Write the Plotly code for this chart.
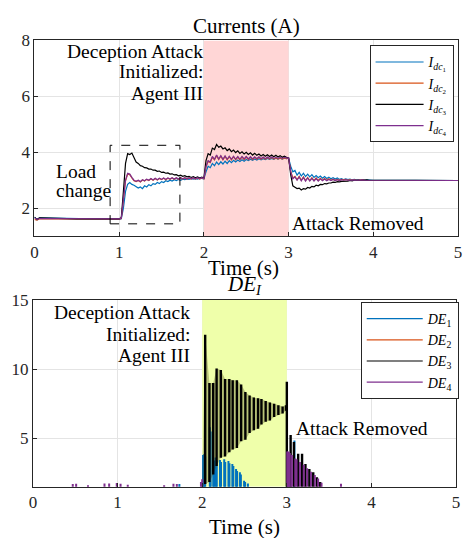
import plotly.graph_objects as go

# ---------------- data: currents (top) ----------------
pre_t = [0.0, 0.03, 0.06, 0.5]
grid_t = [round(1.0 + 0.025 * k, 3) for k in range(121)]
post_t = [4.5, 5.0]
time_s = pre_t + grid_t + post_t

i1_pre = [1.68, 1.58, 1.65, 1.62]
i1_rows = [
    [1.6, 1.62, 2.0, 2.6], [2.85, 2.92, 2.85, 2.82], [2.78, 2.72, 2.76, 2.7],
    [2.8, 2.76, 2.84, 2.8], [2.88, 2.85, 2.92, 2.88], [2.95, 2.92, 2.98, 2.95],
    [3.0, 2.97, 3.02, 2.99], [3.03, 3.0, 3.04, 3.02], [3.05, 3.03, 3.06, 3.04],
    [3.06, 3.04, 3.07, 3.05], [3.05, 3.3, 3.5, 3.45], [3.6, 3.52, 3.65, 3.56],
    [3.66, 3.58, 3.68, 3.6], [3.7, 3.63, 3.71, 3.65], [3.72, 3.67, 3.73, 3.68],
    [3.74, 3.7, 3.75, 3.71], [3.76, 3.72, 3.77, 3.73], [3.77, 3.74, 3.78, 3.75],
    [3.78, 3.75, 3.79, 3.76], [3.79, 3.76, 3.79, 3.77], [3.79, 3.5, 3.3, 3.35],
    [3.18, 3.28, 3.15, 3.25], [3.13, 3.22, 3.12, 3.2], [3.1, 3.17, 3.09, 3.15],
    [3.07, 3.13, 3.06, 3.11], [3.05, 3.09, 3.04, 3.08], [3.03, 3.06, 3.02, 3.05],
    [3.02, 3.04, 3.01, 3.03], [3.01, 3.02, 3.0, 3.02], [3.0, 3.01, 3.0, 3.01],
    [3.0],
]
i1_post = [3.0, 2.99]

i2_pre = [1.6, 1.57, 1.62, 1.61]
i2_rows = [
    [1.61, 1.63, 2.35, 2.98], [3.22, 3.2, 3.08, 2.98], [2.95, 2.99, 2.94, 3.01],
    [2.97, 3.03, 2.99, 3.05], [3.0, 3.06, 3.01, 3.06], [3.02, 3.07, 3.02, 3.07],
    [3.03, 3.08, 3.03, 3.08], [3.03, 3.08, 3.04, 3.08], [3.04, 3.08, 3.04, 3.08],
    [3.04, 3.08, 3.04, 3.08], [3.05, 3.48, 3.68, 3.63], [3.83, 3.73, 3.88, 3.74],
    [3.86, 3.73, 3.85, 3.73], [3.84, 3.73, 3.84, 3.73], [3.83, 3.73, 3.83, 3.74],
    [3.83, 3.74, 3.82, 3.74], [3.82, 3.75, 3.82, 3.75], [3.81, 3.75, 3.81, 3.76],
    [3.81, 3.76, 3.8, 3.76], [3.8, 3.76, 3.8, 3.77], [3.79, 3.32, 3.08, 3.14],
    [3.02, 3.14, 3.0, 3.12], [2.99, 3.1, 2.99, 3.09], [2.99, 3.08, 2.99, 3.07],
    [3.0, 3.06, 3.0, 3.05], [3.0, 3.04, 3.0, 3.03], [3.0, 3.03, 3.01, 3.03],
    [3.0, 3.02, 3.0, 3.02], [3.0, 3.01, 3.0, 3.01], [3.0, 3.0, 3.0, 3.0],
    [3.0],
]
i2_post = [3.0, 2.99]

i3_pre = [1.68, 1.6, 1.65, 1.62]
i3_rows = [
    [1.62, 1.66, 2.6, 3.6], [3.95, 3.92, 3.97, 3.8], [3.65, 3.6, 3.52, 3.5],
    [3.45, 3.44, 3.4, 3.4], [3.36, 3.36, 3.32, 3.33], [3.28, 3.29, 3.25, 3.26],
    [3.22, 3.23, 3.19, 3.2], [3.16, 3.18, 3.14, 3.16], [3.12, 3.14, 3.1, 3.13],
    [3.09, 3.12, 3.08, 3.11], [3.08, 3.7, 3.95, 3.9], [4.15, 4.1, 4.28, 4.18],
    [4.22, 4.12, 4.16, 4.06], [4.12, 4.02, 4.08, 3.99], [4.05, 3.96, 4.02, 3.94],
    [4.0, 3.92, 3.98, 3.9], [3.96, 3.89, 3.94, 3.87], [3.92, 3.86, 3.91, 3.85],
    [3.9, 3.84, 3.89, 3.83], [3.88, 3.82, 3.86, 3.82], [3.8, 3.2, 2.8, 2.75],
    [2.7, 2.72, 2.65, 2.7], [2.68, 2.74, 2.72, 2.78], [2.76, 2.82, 2.8, 2.85],
    [2.84, 2.88, 2.87, 2.9], [2.9, 2.93, 2.92, 2.95], [2.94, 2.96, 2.96, 2.98],
    [2.97, 2.99, 2.98, 3.0], [2.99, 3.0, 3.0, 3.01], [3.0, 3.01, 3.0, 3.01],
    [3.0],
]
i3_post = [3.0, 2.99]

i4_pre = [1.65, 1.6, 1.63, 1.62]
i4_rows = [
    [1.62, 1.64, 2.4, 3.0], [3.25, 3.22, 3.1, 3.0], [2.96, 3.0, 2.95, 3.02],
    [2.98, 3.04, 3.0, 3.06], [3.01, 3.07, 3.02, 3.07], [3.03, 3.08, 3.03, 3.08],
    [3.04, 3.09, 3.04, 3.09], [3.04, 3.09, 3.05, 3.09], [3.05, 3.09, 3.05, 3.09],
    [3.05, 3.09, 3.05, 3.09], [3.06, 3.5, 3.7, 3.65], [3.85, 3.75, 3.9, 3.76],
    [3.88, 3.75, 3.87, 3.75], [3.86, 3.75, 3.86, 3.75], [3.85, 3.75, 3.85, 3.76],
    [3.85, 3.76, 3.84, 3.76], [3.84, 3.77, 3.84, 3.77], [3.83, 3.77, 3.83, 3.78],
    [3.83, 3.78, 3.82, 3.78], [3.82, 3.78, 3.82, 3.79], [3.8, 3.3, 3.05, 3.12],
    [3.0, 3.12, 2.98, 3.1], [2.97, 3.08, 2.97, 3.07], [2.97, 3.06, 2.97, 3.05],
    [2.98, 3.04, 2.98, 3.03], [2.99, 3.03, 2.99, 3.02], [2.99, 3.02, 3.0, 3.02],
    [3.0, 3.01, 3.0, 3.01], [3.0, 3.01, 3.0, 3.01], [3.0, 3.0, 3.0, 3.0],
    [3.0],
]
i4_post = [3.0, 2.99]

# ---------------- data: detection errors (bottom) ----------------
de1_t = [1.73, 2.01, 2.022, 2.035, 2.09, 2.1, 2.13, 2.142, 2.16, 2.172, 2.21, 2.222,
         2.26, 2.272, 2.31, 2.322, 2.356, 2.368, 2.40, 2.412, 2.445, 2.457, 2.495,
         2.507, 2.54, 3.09]
de1_v = [1.7, 3.8, 3.85, 3.7, 5.8, 5.5, 3.6, 3.4, 3.62, 3.4, 3.45, 3.3,
         3.5, 3.3, 3.37, 3.2, 3.15, 3.0, 2.8, 2.65, 2.55, 2.4, 1.95,
         1.85, 1.75, 4.85]

de2_t = [2.05, 3.02]
de2_v = [1.3, 1.3]

de3_t = [2.035, 2.085, 2.13, 2.17, 2.22, 2.27, 2.32, 2.36, 2.41, 2.46, 2.51,
         2.56, 2.61, 2.66, 2.70, 2.75, 2.80, 2.85, 2.90, 2.95, 2.99,
         3.0, 3.045, 3.084, 3.134, 3.18, 3.22, 3.266, 3.312, 3.355, 3.394]
de3_hi = [12.5, 9.0, 9.0, 10.05, 9.95, 9.3, 9.3, 9.2, 9.2, 8.9, 8.35,
          8.1, 7.95, 7.9, 7.85, 7.7, 7.6, 7.5, 7.4, 7.3, 7.4,
          9.1, 5.25, 4.75, 3.9, 3.9, 3.15, 2.8, 2.55, 2.2, 1.85]
de3_lo = [1.7, 1.85, 2.4, 3.0, 3.6, 3.7, 4.0, 4.2, 4.3, 4.8, 4.9,
          5.4, 5.6, 5.7, 6.0, 6.2, 6.3, 6.55, 6.7, 6.8, 7.0,
          0, 0, 0, 0, 0, 0, 0, 0, 0, 0]
n_attack = 21  # oscillation cycles that fall inside the attack window

de4_t = [0.47, 0.51, 0.65, 0.845, 0.9, 0.99, 1.035, 1.12, 1.55, 1.66, 1.70, 1.985, 2.0,
         3.005, 3.015, 3.025, 3.035, 3.06, 3.1, 3.115, 3.155, 3.2, 3.24, 3.285, 3.33,
         3.37, 3.41, 3.64]
de4_v = [1.7, 1.72, 1.62, 1.75, 1.75, 1.78, 1.72, 1.65, 1.62, 1.72, 1.7, 1.85, 2.05,
         4.05, 4.05, 4.0, 3.95, 3.8, 3.55, 3.5, 3.3, 3.1, 2.85, 2.6, 2.35,
         2.1, 1.8, 1.72]

x_ticks = [0, 1, 2, 3, 4, 5]
y1_ticks = [2, 4, 6, 8]
y2_ticks = [5, 10, 15]

BLUE, ORANGE, BLACK, PURPLE = "#0072BD", "#D95319", "#000000", "#7E2F8E"
FONT = "Liberation Serif"
W, H = 463, 538


def flat(pre, rows, post):
    out = list(pre)
    for r in rows:
        out += r
    return out + list(post)


def stems(ts, hi, lo=None):
    xs, ys = [], []
    for i, t in enumerate(ts):
        base = 0 if lo is None else lo[i]
        xs += [t, t, None]
        ys += [base, hi[i], None]
    return xs, ys


fig = go.Figure()

cur = [
    ("<i>I</i><sub><i>dc</i><sub>1</sub></sub>", flat(i1_pre, i1_rows, i1_post), BLUE),
    ("<i>I</i><sub><i>dc</i><sub>2</sub></sub>", flat(i2_pre, i2_rows, i2_post), ORANGE),
    ("<i>I</i><sub><i>dc</i><sub>3</sub></sub>", flat(i3_pre, i3_rows, i3_post), BLACK),
    ("<i>I</i><sub><i>dc</i><sub>4</sub></sub>", flat(i4_pre, i4_rows, i4_post), PURPLE),
]
for name, ys, col in cur:
    n = min(len(time_s), len(ys))
    fig.add_trace(go.Scatter(x=time_s[:n], y=ys[:n], mode="lines", name=name,
                             line=dict(color=col, width=1.2), xaxis="x", yaxis="y",
                             legend="legend"))

# bottom: stems
bx, by = stems(de1_t, de1_v)
fig.add_trace(go.Scatter(x=bx, y=by, mode="lines", line=dict(color=BLUE, width=2),
                         showlegend=False, xaxis="x2", yaxis="y2"))
bx, by = stems(de2_t, de2_v)
fig.add_trace(go.Scatter(x=bx, y=by, mode="lines", line=dict(color=ORANGE, width=2),
                         showlegend=False, xaxis="x2", yaxis="y2"))
band_x = [2.0] + de3_t[:n_attack] + de3_t[:n_attack][::-1] + [2.0]
band_y = [1.5] + de3_hi[:n_attack] + de3_lo[:n_attack][::-1] + [1.5]
fig.add_trace(go.Scatter(x=band_x, y=band_y, mode="lines", fill="toself",
                         fillcolor="rgba(60,60,10,0.3)", line=dict(width=0),
                         showlegend=False, hoverinfo="skip", xaxis="x2", yaxis="y2"))
bx, by = stems(de3_t, de3_hi, de3_lo)
fig.add_trace(go.Scatter(x=bx, y=by, mode="lines", line=dict(color=BLACK, width=2.4),
                         showlegend=False, xaxis="x2", yaxis="y2"))
bx, by = stems(de4_t, de4_v)
fig.add_trace(go.Scatter(x=bx, y=by, mode="lines", line=dict(color=PURPLE, width=2),
                         showlegend=False, xaxis="x2", yaxis="y2"))
for name, col in [("<i>DE</i><sub>1</sub>", BLUE), ("<i>DE</i><sub>2</sub>", ORANGE),
                  ("<i>DE</i><sub>3</sub>", BLACK), ("<i>DE</i><sub>4</sub>", PURPLE)]:
    fig.add_trace(go.Scatter(x=[None], y=[None], mode="lines", name=name,
                             line=dict(color=col, width=1.2), xaxis="x2", yaxis="y2",
                             legend="legend2"))

axis_common = dict(showline=True, mirror=True, linecolor="#262626", linewidth=1,
                   ticks="inside", ticklen=4, tickcolor="#262626",
                   showgrid=True, gridcolor="#e4e4e4", zeroline=False,
                   ticklabeloverflow="allow",
                   tickfont=dict(family=FONT, size=17, color="#262626"))

leg_common = dict(xanchor="left", yanchor="top", bgcolor="white",
                  bordercolor="#262626", borderwidth=1,
                  font=dict(family=FONT, size=14), tracegroupgap=0)

fig.update_layout(
    width=W, height=H, autosize=False,
    margin=dict(l=0, r=0, t=0, b=0),
    paper_bgcolor="white", plot_bgcolor="white",
    font=dict(family=FONT, color="#000000"),
    xaxis=dict(domain=[31 / W, 462 / W], anchor="y", range=[0, 5], tickvals=x_ticks, **axis_common),
    yaxis=dict(domain=[(H - 231) / H, (H - 32) / H], anchor="x", range=[1, 8], tickvals=y1_ticks, **axis_common),
    xaxis2=dict(domain=[29.5 / W, 460 / W], anchor="y2", range=[0, 5], tickvals=x_ticks, **axis_common),
    yaxis2=dict(domain=[(H - 486) / H, (H - 296) / H], anchor="x2", range=[1.5, 15], tickvals=y2_ticks, **axis_common),
    legend=dict(x=372 / W, y=1 - 37 / H, itemwidth=48, **leg_common),
    legend2=dict(x=363 / W, y=1 - 298 / H, itemwidth=56, **leg_common),
    showlegend=True,
)

fig.add_shape(type="rect", xref="x", yref="y", x0=2, x1=3, y0=1, y1=8,
              fillcolor="rgb(255,214,214)", line=dict(width=0), layer="between")
fig.add_shape(type="rect", xref="x2", yref="y2", x0=2, x1=3, y0=1.5, y1=15,
              fillcolor="rgb(239,255,170)", line=dict(width=0), layer="between")
fig.add_shape(type="rect", xref="x", yref="y", x0=0.893, x1=1.717, y0=1.44, y1=4.25,
              line=dict(color="#000000", width=1, dash="dash"), layer="above")


def pann(text, px, py, size=21):
    fig.add_annotation(text=text, x=px / W, y=1 - py / H, xref="paper", yref="paper",
                       xanchor="center", yanchor="middle", showarrow=False,
                       font=dict(family=FONT, size=size, color="#000000"))


pann("Currents (A)", 247, 17)
pann("Time (s)", 244, 263)
pann("<i>DE<sub>I</sub></i>", 245, 281)
pann("Time (s)", 245, 527)


def dann(text, x, y, xa, ax, ay):
    fig.add_annotation(text=text, x=x, y=y, xref=ax, yref=ay, xanchor=xa, yanchor="middle",
                       showarrow=False, borderpad=0,
                       font=dict(family=FONT, size=19.5, color="#000000"))


for txt, yy in [("Deception Attack", 7.613), ("Initialized:", 6.874), ("Agent III", 6.10)]:
    dann(txt, 2.0, yy, "right", "x", "y")
dann("Load", 0.24, 3.32, "left", "x", "y")
dann("change", 0.24, 2.62, "left", "x", "y")
dann("Attack Removed", 3.03, 1.46, "left", "x", "y")
for txt, yy in [("Deception Attack", 14.07), ("Initialized:", 12.51), ("Agent III", 11.02)]:
    dann(txt, 1.865, yy, "right", "x2", "y2")
dann("Attack Removed", 3.095, 5.69, "left", "x2", "y2")

fig.write_html("out.html", config={"displayModeBar": False},
               post_script="document.body.style.margin='0';document.body.style.overflow='hidden';")
